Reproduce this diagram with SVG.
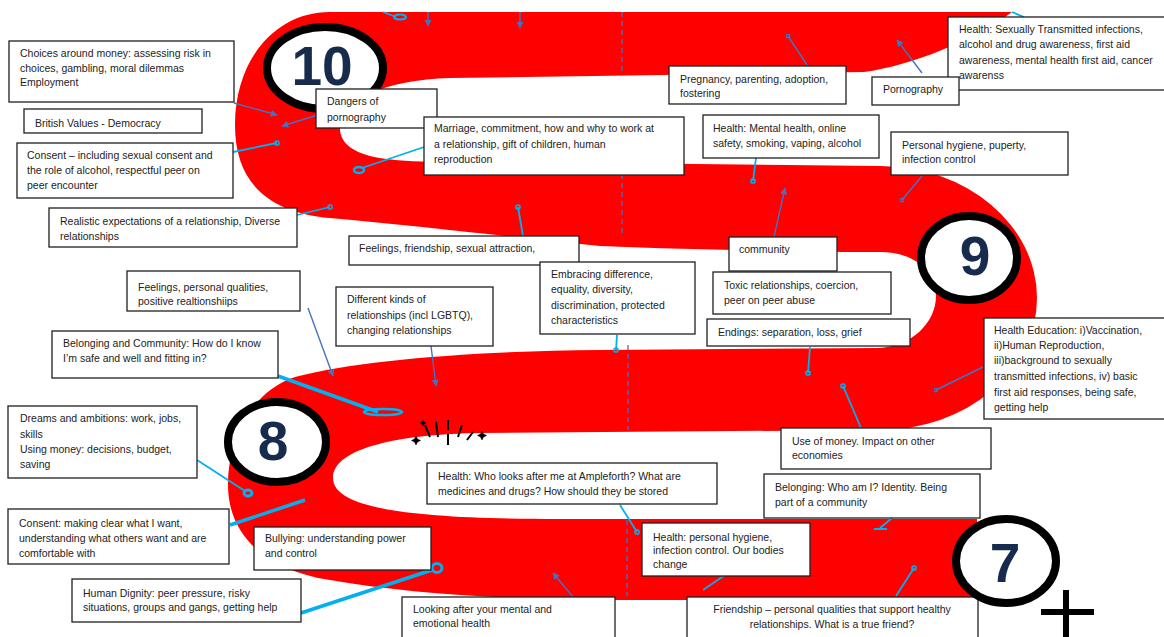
<svg xmlns="http://www.w3.org/2000/svg" width="1164" height="637" viewBox="0 0 1164 637">
<defs>
<style>
.box rect{fill:#fff;stroke:#1f1f1f;stroke-width:1.3}
.box text{font-family:"Liberation Sans",Arial,sans-serif;font-size:10.5px;fill:#222}
.ring{fill:#fff;stroke:#000;stroke-width:8}
.num{font-family:"Liberation Sans",Arial,sans-serif;font-weight:bold;font-size:55px;fill:#172b4d;text-anchor:middle}
.bl{stroke:#4472c4;stroke-width:1.4;fill:none}
.ba{stroke:#4472c4;stroke-width:1.4;fill:none;marker-end:url(#arr)}
.bd{stroke:#4472c4;stroke-width:1.4;fill:none;marker-end:url(#bdot)}
.cy{stroke:#00b0f0;stroke-width:1.8;fill:none}
.cd{stroke:#00b0f0;stroke-width:1.8;fill:none;marker-end:url(#cdot)}
.ck{stroke:#00b0f0;stroke-width:3.5;fill:none}
.dash{stroke:#4472c4;stroke-width:1.3;stroke-dasharray:5 4;fill:none}
</style>
<marker id="arr" viewBox="0 0 10 10" refX="9" refY="5" markerWidth="7" markerHeight="7" markerUnits="userSpaceOnUse" orient="auto"><path d="M0,0 L10,5 L0,10 Z" fill="#4472c4"/></marker>
<marker id="cdot" viewBox="0 0 10 10" refX="5" refY="5" markerWidth="6" markerHeight="6" markerUnits="userSpaceOnUse"><circle cx="5" cy="5" r="3.5" fill="none" stroke="#00b0f0" stroke-width="2.5"/></marker>
<marker id="bdot" viewBox="0 0 10 10" refX="5" refY="5" markerWidth="5" markerHeight="5" markerUnits="userSpaceOnUse"><circle cx="5" cy="5" r="3.5" fill="none" stroke="#4472c4" stroke-width="2.5"/></marker>
</defs>
<rect width="1164" height="637" fill="#fff"/>
<g id="road">
<path fill="#ff0000" d="M1012 12 L330 12 C275 12 235 60 235 125 C235 180 265 212 330 218 C420 226 520 238 600 246 C700 250 820 252 880 252 C915 252 936 272 936 296 C936 322 912 347 878 348 L600 350 C480 351 360 360 295 377 C250 392 228 440 228 485 C228 535 265 570 330 580 C400 592 480 598 580 600 L977 600 L977 519 L560 519 C420 519 333 510 333 478 C333 448 400 434 480 433 L880 430 A157 132 0 0 0 880 166 L600 163 C480 163 400 164 370 156 C348 150 340 140 340 128 C340 100 385 80 450 78 L864 72 C910 66 975 40 1012 12 Z"/>
<path class="dash" d="M622 12 V75 M622 165 V236 M628 345 V430 M627 520 V596"/>
<g fill="#000" stroke="#000" stroke-width="2">
<path d="M425 425 L430 437 M436 422 L438 437 M448 420 V430 M448 434 V445 M462 425 L458 437 M473 432 L467 440" fill="none"/>
<path d="M416 436 L417.5 439 L420.5 440.5 L417.5 442 L416 445 L414.5 442 L411.5 440.5 L414.5 439 Z" stroke-width="0.5"/>
<path d="M482 431 L483.5 434 L486.5 435.5 L483.5 437 L482 440 L480.5 437 L477.5 435.5 L480.5 434 Z" stroke-width="0.5"/>
<path d="M423 420 L424 422 L426 423 L424 424 L423 426 L422 424 L420 423 L422 422 Z" stroke-width="0.5"/>
</g>
</g>
<g id="circle-10"><ellipse class="ring" cx="325" cy="68" rx="58" ry="41"/><text class="num" x="322" y="85">10</text></g>
<g id="circle-9"><ellipse class="ring" cx="969" cy="258" rx="48" ry="42"/><text class="num" x="975" y="275">9</text></g>
<g id="circle-8"><ellipse class="ring" cx="277" cy="442" rx="49" ry="40"/><text class="num" x="273" y="460">8</text></g>
<g id="connectors">
<path class="ba" d="M428 12 L428 26"/>
<path class="ba" d="M520 12 L520 28"/>
<path class="ba" d="M234 103 L277 115"/>
<path class="ba" d="M318 115 L282 126"/>
<path class="ba" d="M922 73 L897 40"/>
<path class="ba" d="M774 237 L785 188"/>
<path class="ba" d="M308 308 L333 376"/>
<path class="ba" d="M431 346 L436 386"/>
<path class="ba" d="M573 597 L553 573"/>
<path class="bd" d="M807 65 L788 36"/>
<path class="bd" d="M922 176 L902 200"/>
<path class="bd" d="M983 367 L936 390"/>
<path class="cy" d="M383 12 L396 17"/><ellipse cx="400" cy="17" rx="6" ry="2.5" fill="none" stroke="#00b0f0" stroke-width="2"/>
<path class="cd" d="M233 152 L277 143"/>
<path class="cy" d="M424 147 L362 168"/><ellipse cx="359" cy="170" rx="5" ry="3" fill="none" stroke="#00b0f0" stroke-width="2.5"/>
<path class="cd" d="M297 215 L330 207"/>
<path class="cd" d="M523 236 L518 207"/>
<path class="cd" d="M756 158 L753 181"/>
<path class="cd" d="M617 335 L616 350"/>
<path class="cd" d="M810 347 L808 373"/>
<path class="cd" d="M861 428 L843 386"/>
<path class="ck" d="M278 376 L378 412"/><ellipse cx="383" cy="412" rx="19" ry="3" fill="none" stroke="#00b0f0" stroke-width="2.5"/>
<path class="cy" d="M197 460 L245 491"/><ellipse cx="248" cy="493" rx="4" ry="3" fill="none" stroke="#00b0f0" stroke-width="3"/>
<path class="ck" d="M230 525 L305 500"/>
<path class="ck" d="M301 613 L432 570"/><ellipse cx="437" cy="568" rx="5" ry="4.5" fill="none" stroke="#00b0f0" stroke-width="3"/>
<path class="cd" d="M620 505 L637 532"/>
<path class="cy" d="M725 575 L703 590"/>
<path class="cy" d="M892 518 L880 528 M874 529 L887 529"/>
<path class="cd" d="M896 596 L914 568"/>
<path class="cy" d="M1012 12 L1024 17"/>
</g>
<g id="n-choices" class="box"><rect x="9" y="41" width="225" height="61"/><text x="20" y="57">Choices around money: assessing risk in<tspan x="20" dy="15">choices, gambling, moral dilemmas</tspan><tspan x="20" dy="14">Employment</tspan></text></g>
<g id="n-british" class="box"><rect x="24" y="109" width="178" height="24"/><text x="35" y="127">British Values - Democracy</text></g>
<g id="n-consent1" class="box"><rect x="17" y="143" width="216" height="55"/><text x="27" y="159">Consent – including sexual consent and<tspan x="27" dy="15">the role of alcohol, respectful peer on</tspan><tspan x="27" dy="15">peer encounter</tspan></text></g>
<g id="n-realistic" class="box"><rect x="49" y="208" width="248" height="39"/><text x="60" y="225">Realistic expectations of a relationship, Diverse<tspan x="60" dy="15">relationships</tspan></text></g>
<g id="n-dangers" class="box"><rect x="316" y="89" width="121" height="39"/><text x="327" y="105">Dangers of<tspan x="327" dy="16">pornography</tspan></text></g>
<g id="n-marriage" class="box"><rect x="424" y="117" width="260" height="58"/><text x="434" y="132">Marriage, commitment, how and why to work at<tspan x="434" dy="16">a relationship, gift of children, human</tspan><tspan x="434" dy="15">reproduction</tspan></text></g>
<g id="n-pregnancy" class="box"><rect x="669" y="66" width="177" height="38"/><text x="680" y="83">Pregnancy, parenting, adoption,<tspan x="680" dy="14">fostering</tspan></text></g>
<g id="n-health-mental" class="box"><rect x="703" y="115" width="176" height="43"/><text x="713" y="132">Health: Mental health, online<tspan x="713" dy="15">safety, smoking, vaping, alcohol</tspan></text></g>
<g id="n-health-sti" class="box"><rect x="948" y="17" width="220" height="73"/><text x="959" y="33">Health: Sexually Transmitted infections,<tspan x="959" dy="15">alcohol and drug awareness, first aid</tspan><tspan x="959" dy="16">awareness, mental health first aid, cancer</tspan><tspan x="959" dy="15">awarenss</tspan></text></g>
<g id="n-pornography" class="box"><rect x="872" y="77" width="87" height="28"/><text x="883" y="93">Pornography</text></g>
<g id="n-personal-hygiene" class="box"><rect x="891" y="132" width="177" height="43"/><text x="902" y="149">Personal hygiene, puperty,<tspan x="902" dy="14">infection control</tspan></text></g>
<g id="n-feelings-friendship" class="box"><rect x="349" y="236" width="230" height="29"/><text x="359" y="252">Feelings, friendship, sexual attraction,</text></g>
<g id="n-embracing" class="box"><rect x="540" y="262" width="155" height="72"/><text x="551" y="278">Embracing difference,<tspan x="551" dy="15">equality, diversity,</tspan><tspan x="551" dy="16">discrimination, protected</tspan><tspan x="551" dy="15">characteristics</tspan></text></g>
<g id="n-community" class="box"><rect x="729" y="237" width="108" height="34"/><text x="739" y="253">community</text></g>
<g id="n-toxic" class="box"><rect x="713" y="272" width="178" height="42"/><text x="724" y="289">Toxic relationships, coercion,<tspan x="724" dy="15">peer on peer abuse</tspan></text></g>
<g id="n-endings" class="box"><rect x="707" y="319" width="203" height="27"/><text x="718" y="336">Endings: separation, loss, grief</text></g>
<g id="n-health-education" class="box"><rect x="984" y="318" width="185" height="101"/><text x="994" y="334">Health Education: i)Vaccination,<tspan x="994" dy="15">ii)Human Reproduction,</tspan><tspan x="994" dy="15">iii)background to sexually</tspan><tspan x="994" dy="16">transmitted infections, iv) basic</tspan><tspan x="994" dy="16">first aid responses, being safe,</tspan><tspan x="994" dy="15">getting help</tspan></text></g>
<g id="n-feelings-personal" class="box"><rect x="127" y="271" width="173" height="40"/><text x="138" y="291">Feelings, personal qualities,<tspan x="138" dy="14">positive realtionshiips</tspan></text></g>
<g id="n-different" class="box"><rect x="336" y="287" width="157" height="59"/><text x="347" y="303">Different kinds of<tspan x="347" dy="16">relationships (incl LGBTQ),</tspan><tspan x="347" dy="15">changing relationships</tspan></text></g>
<g id="n-belonging-community" class="box"><rect x="52" y="331" width="226" height="47"/><text x="63" y="347">Belonging and Community: How do I know<tspan x="63" dy="15">I’m safe and well and fitting in?</tspan></text></g>
<g id="n-dreams" class="box"><rect x="8" y="406" width="189" height="72"/><text x="20" y="422">Dreams and ambitions: work, jobs,<tspan x="20" dy="16">skills</tspan><tspan x="20" dy="15">Using money: decisions, budget,</tspan><tspan x="20" dy="15">saving</tspan></text></g>
<g id="n-consent2" class="box"><rect x="8" y="509" width="221" height="55"/><text x="19" y="527">Consent: making clear what I  want,<tspan x="19" dy="15">understanding what others want and are</tspan><tspan x="19" dy="15">comfortable with</tspan></text></g>
<g id="n-bullying" class="box"><rect x="254" y="527" width="177" height="43"/><text x="265" y="542">Bullying: understanding power<tspan x="265" dy="15">and control</tspan></text></g>
<g id="n-dignity" class="box"><rect x="72" y="579" width="229" height="43"/><text x="83" y="597">Human Dignity: peer pressure, risky<tspan x="83" dy="14">situations, groups and gangs, getting help</tspan></text></g>
<g id="n-health-who" class="box"><rect x="427" y="463" width="290" height="41"/><text x="438" y="480">Health: Who looks after me at Ampleforth? What are<tspan x="438" dy="15">medicines and drugs? How should they be stored</tspan></text></g>
<g id="n-looking" class="box"><rect x="402" y="597" width="213" height="50"/><text x="413" y="613">Looking after your mental and<tspan x="413" dy="14">emotional health</tspan></text></g>
<g id="n-health-hygiene" class="box"><rect x="642" y="523" width="168" height="53"/><text x="653" y="541">Health: personal hygiene,<tspan x="653" dy="13">infection control. Our bodies</tspan><tspan x="653" dy="14">change</tspan></text></g>
<g id="n-money" class="box"><rect x="781" y="428" width="210" height="41"/><text x="792" y="445">Use of money. Impact on other<tspan x="792" dy="14">economies</tspan></text></g>
<g id="n-belonging-who" class="box"><rect x="764" y="474" width="216" height="44"/><text x="775" y="491">Belonging: Who am I? Identity. Being<tspan x="775" dy="15">part of a community</tspan></text></g>
<g id="n-friendship" class="box"><rect x="687" y="597" width="291" height="50"/><text x="832" y="613" text-anchor="middle">Friendship – personal qualities that support healthy<tspan x="832" dy="15">relationships. What is a true friend?</tspan></text></g>
<g id="circle-7"><ellipse class="ring" cx="1006" cy="561" rx="50" ry="42"/><text class="num" x="1005" y="582">7</text></g>
<g id="plus" fill="#000"><rect x="1041" y="609" width="53" height="6"/><rect x="1063" y="590" width="6" height="47"/></g>
</svg>
